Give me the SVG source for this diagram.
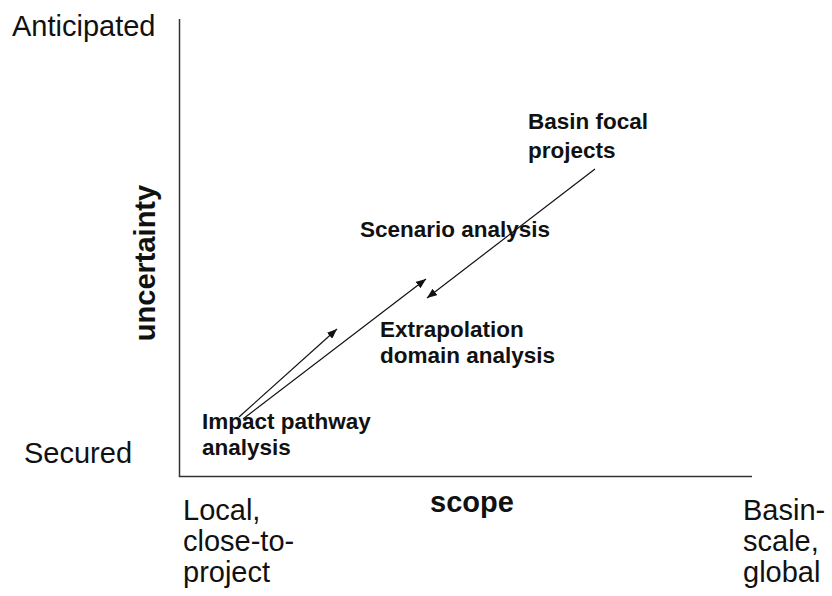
<svg xmlns="http://www.w3.org/2000/svg" width="832" height="596" viewBox="0 0 832 596">
<style>
.ax{font-family:"Liberation Sans",Arial,sans-serif;font-size:29px;fill:#111}
.axb{font-family:"Liberation Sans",Arial,sans-serif;font-size:29px;font-weight:bold;fill:#111}
.lb{font-family:"Liberation Sans",Arial,sans-serif;font-size:22.5px;font-weight:bold;fill:#111}
.axis{stroke:#333;stroke-width:1.5;fill:none}
.arr{stroke:#111;stroke-width:1.2;fill:none;marker-end:url(#ah)}
</style>
<defs>
<marker id="ah" viewBox="0 0 10 8" refX="10" refY="4" markerWidth="10" markerHeight="8" markerUnits="userSpaceOnUse" orient="auto">
<path d="M0,0 L10,4 L0,8 Z" fill="#111"/>
</marker>
</defs>
<rect width="832" height="596" fill="#fff"/>
<g id="axes">
<polyline class="axis" points="179.5,19 179.5,476.5 752,476.5"/>
<text class="ax" x="12" y="36">Anticipated</text>
<text class="ax" x="24" y="463">Secured</text>
<text class="axb" x="155" y="263" text-anchor="middle" transform="rotate(-90 155 263)">uncertainty</text>
<text class="axb" x="472" y="512" text-anchor="middle">scope</text>
<text class="ax" x="183" y="520">Local,</text>
<text class="ax" x="183" y="551">close-to-</text>
<text class="ax" x="183" y="582">project</text>
<text class="ax" x="743" y="520">Basin-</text>
<text class="ax" x="743" y="551">scale,</text>
<text class="ax" x="743" y="582">global</text>
</g>
<g id="connectors">
<line class="arr" x1="239" y1="417" x2="337" y2="329"/>
<line class="arr" x1="243" y1="419" x2="426" y2="279"/>
<line class="arr" x1="595" y1="169" x2="427" y2="298"/>
</g>
<g id="basin-focal"><text class="lb" x="528" y="129">Basin focal</text><text class="lb" x="528" y="158">projects</text></g>
<g id="scenario"><text class="lb" x="360" y="237">Scenario analysis</text></g>
<g id="extrapolation"><text class="lb" x="380" y="337">Extrapolation</text><text class="lb" x="380" y="363">domain analysis</text></g>
<g id="impact"><text class="lb" x="202" y="429">Impact pathway</text><text class="lb" x="202" y="455">analysis</text></g>
</svg>
